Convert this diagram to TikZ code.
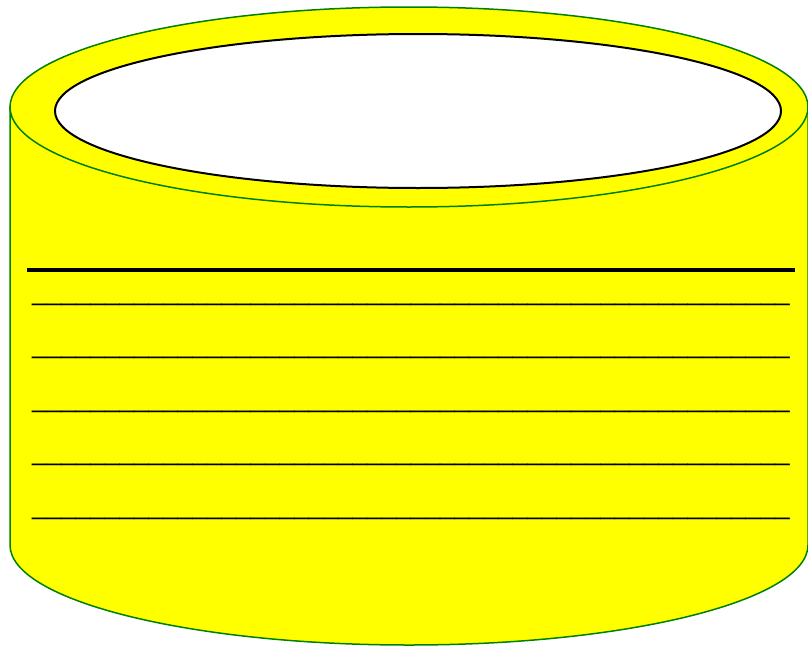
\documentclass[tikz,border=0pt]{standalone}
\usepackage{fontspec}
\setmainfont{Liberation Sans}
\definecolor{fillyel}{RGB}{255,255,0}
\definecolor{edgegreen}{RGB}{0,128,0}
\newcommand\myten{\_\_\_\_\_\_\_\_\_\_}
\newcommand\myunders{\myten\myten\myten\myten\myten\_\_}
\begin{document}
\begin{tikzpicture}[x=1pt,y=-1pt,
  body/.style={fill=fillyel,draw=edgegreen,line width=1.5pt},
  inner/.style={fill=white,draw=black,line width=2pt},
  rule/.style={draw=black,line width=3.5pt},
  under/.style={anchor=base west,inner sep=0pt,font=\fontsize{26.2}{30}\selectfont}]
\useasboundingbox (0,0) rectangle (808,645);
\path[body] (10,107) -- (10,545) arc[start angle=180,end angle=360,x radius=399,y radius=-100] -- (808,107) -- cycle;
\path[body] (409,107) ellipse[x radius=399,y radius=100];
\path[inner] (418,111) ellipse[x radius=363,y radius=77];
\coordinate (ra) at (27,270);
\coordinate (rb) at (795,270);
\draw[rule] (ra) -- (rb);
\foreach \i/\yy in {1/300,2/353,3/407,4/460,5/514}{
  \node[under] (u\i) at (32,\yy) {\myunders};
}
\end{tikzpicture}
\end{document}
